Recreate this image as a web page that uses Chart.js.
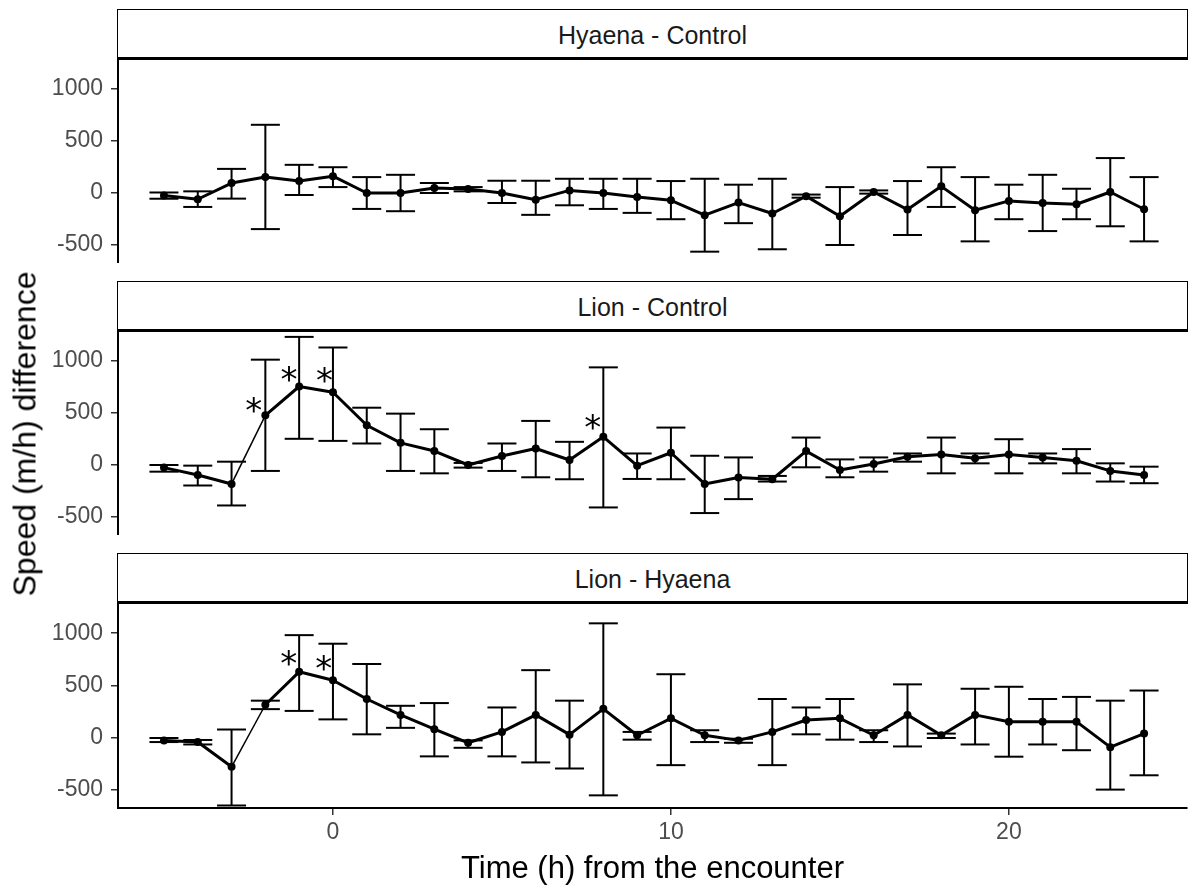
<!DOCTYPE html>
<html>
<head>
<meta charset="utf-8">
<title>Speed difference</title>
<script src="https://cdn.jsdelivr.net/npm/chart.js@4.4.0/dist/chart.umd.min.js"></script>
<style>
  body { margin: 0; background: #fff; font-family: "Liberation Sans", Arial, sans-serif; }
  #wrap { position: relative; width: 1189px; height: 890px; overflow: hidden; }
  .strip {
    position: absolute; left: 117px; width: 1071px; height: 51px;
    box-sizing: border-box; border: 1.5px solid #000; border-bottom: 3px solid #000;
    background: #fff; text-align: center; font-size: 25px; color: #1a1a1a;
    line-height: 44px; padding-top: 3px;
  }
  canvas { position: absolute; left: 0; }
  #ytitle {
    position: absolute; left: 25px; top: 434px;
    transform: translate(-50%, -50%) rotate(-90deg);
    font-size: 32px; white-space: nowrap; color: #000;
  }
</style>
</head>
<body>
<div id="wrap">
  <div class="strip" style="top:9px">Hyaena - Control</div>
  <div class="strip" style="top:281px">Lion - Control</div>
  <div class="strip" style="top:553px">Lion - Hyaena</div>
  <canvas id="p1" width="1189" height="203" style="top:60px"></canvas>
  <canvas id="p2" width="1189" height="203" style="top:332px"></canvas>
  <canvas id="p3" width="1189" height="286" style="top:604px"></canvas>
  <div id="ytitle">Speed (m/h) difference</div>
</div>
<script>
// Data (hours from the encounter)
const time = [-5, -4, -3, -2, -1, 0, 1, 2, 3, 4, 5, 6, 7, 8, 9, 10, 11, 12, 13, 14, 15, 16, 17, 18, 19, 20, 21, 22, 23, 24];

// Hyaena - Control
const hcMean = [-25, -60, 96, 153, 115, 162, 0, 0, 48, 38, 0, -64, 25, 0, -38, -70, -213, -92, -197, -30, -223, 10, -159, 64, -166, -76, -96, -108, 10, -156];
const hcHi   = [5, 16, 232, 656, 271, 248, 153, 175, 96, 57, 118, 118, 137, 137, 137, 115, 137, 80, 137, -15, 57, 25, 115, 248, 153, 80, 175, 41, 336, 153];
const hcLo   = [-55, -134, -54, -347, -19, 57, -153, -175, 0, 16, -96, -210, -118, -153, -191, -252, -564, -290, -541, -45, -500, -6, -404, -134, -465, -252, -366, -252, -320, -465];

// Lion - Control
const lcMean = [-25, -96, -182, 478, 755, 700, 382, 213, 134, 0, 86, 159, 48, 271, -6, 118, -182, -121, -137, 134, -48, 10, 80, 102, 64, 102, 73, 41, -57, -96];
const lcHi   = [0, -6, 32, 1013, 1232, 1130, 551, 494, 344, 20, 207, 424, 223, 939, 111, 360, 89, 73, -105, 264, 54, 73, 111, 264, 111, 248, 111, 153, 16, -16];
const lcLo   = [-64, -197, -389, -57, 252, 232, 207, -57, -80, -25, -57, -118, -137, -408, -134, -137, -462, -328, -159, -22, -118, -64, 32, -80, 16, -80, 16, -80, -159, -175];

// Lion - Hyaena
const lhMean = [-26, -42, -279, 315, 630, 549, 370, 218, 81, -49, 55, 218, 29, 276, 23, 185, 23, -26, 55, 169, 185, 23, 218, 23, 218, 153, 153, 153, -91, 39];
const lhHi   = [-3, -22, 78, 354, 981, 899, 705, 305, 331, -26, 289, 646, 354, 1094, 55, 607, 71, -10, 370, 289, 370, 71, 510, 39, 468, 487, 370, 390, 354, 451];
const lhLo   = [-42, -65, -649, 273, 256, 175, 32, 94, -179, -97, -179, -237, -295, -552, -19, -263, -42, -49, -263, 32, -19, -42, -84, -3, -65, -182, -65, -120, -497, -360];

// significance marks
const lcStarX = [-2.34, -1.3, -0.25, 7.69];
const lcStarY = [580, 874, 866, 410];
const lhStarX = [-1.31, -0.27];
const lhStarY = [765, 715];

// ticks
const yTicks = [-500, 0, 500, 1000];
const xTicks = [0, 10, 20];

const FONT = '"Liberation Sans", Arial, sans-serif';

// draws the asterisks at data coordinates
const starPlugin = {
  id: 'stars',
  afterDatasetsDraw(chart, args, opts) {
    if (!opts.xs) return;
    const ctx = chart.ctx;
    const x = chart.scales.x, y = chart.scales.y;
    ctx.save();
    ctx.font = '34px "DejaVu Sans"';
    ctx.fillStyle = '#000';
    ctx.textAlign = 'center';
    ctx.textBaseline = 'alphabetic';
    const m = ctx.measureText('*');
    const off = (m.actualBoundingBoxAscent - m.actualBoundingBoxDescent) / 2;
    opts.xs.forEach((v, i) => {
      ctx.fillText('*', x.getPixelForValue(v), y.getPixelForValue(opts.ys[i]) + off);
    });
    ctx.restore();
  }
};

function makeChart(id, mean, lo, hi, cfg) {
  const stems = [];
  const caps = [];
  time.forEach((t, i) => {
    stems.push({x: t, y: lo[i]}, {x: t, y: hi[i]}, {x: t, y: null});
    caps.push({x: t, y: lo[i]}, {x: t, y: hi[i]});
  });

  new Chart(document.getElementById(id), {
    type: 'line',
    data: {
      datasets: [
        {
          data: stems, borderColor: '#000', borderWidth: 2,
          pointRadius: 0, spanGaps: false
        },
        {
          data: caps, showLine: false, pointStyle: 'line',
          pointRadius: 14.5, pointBorderWidth: 2, pointBorderColor: '#000'
        },
        {
          data: time.map((t, i) => ({x: t, y: mean[i]})),
          borderColor: '#000', borderWidth: 3, borderJoinStyle: 'round',
          pointRadius: 4, pointBackgroundColor: '#000', pointBorderWidth: 0,
          segment: {
            borderWidth: c => (cfg.thinSeg && c.p0DataIndex === 2 ? 1.5 : 3)
          }
        }
      ]
    },
    options: {
      responsive: false,
      animation: false,
      events: [],
      layout: { autoPadding: false, padding: {left: 0, right: 2, top: 0, bottom: 0} },
      plugins: {
        legend: { display: false },
        tooltip: { enabled: false },
        stars: { xs: cfg.starX, ys: cfg.starY }
      },
      scales: {
        x: {
          type: 'linear',
          min: -6.36, max: 25.27,
          display: cfg.showX,
          afterBuildTicks: s => { s.ticks = xTicks.map(v => ({value: v})); },
          afterFit: s => {
            s.height = cfg.showX ? 82 : 0;
            s.paddingLeft = 0; s.paddingRight = 0;
          },
          grid: { drawOnChartArea: false, tickLength: 7, color: '#333', lineWidth: 1.5 },
          border: { display: true, color: '#000', width: 2 },
          ticks: {
            color: '#4d4d4d', font: {family: FONT, size: 23}, padding: 4,
            maxRotation: 0, callback: v => String(v)
          },
          title: {
            display: true, text: 'Time (h) from the encounter',
            color: '#000', font: {family: FONT, size: 31}, padding: {top: 0, bottom: 2}
          }
        },
        y: {
          min: -673, max: 1279,
          afterBuildTicks: s => { s.ticks = yTicks.map(v => ({value: v})); },
          afterFit: s => {
            s.width = 118;
            s.paddingTop = 0; s.paddingBottom = 0;
          },
          grid: { drawOnChartArea: false, tickLength: 7, color: '#333', lineWidth: 1.5 },
          border: { display: true, color: '#000', width: 2 },
          ticks: {
            color: '#4d4d4d', font: {family: FONT, size: 23}, padding: 8,
            callback: v => String(v)
          }
        }
      }
    },
    plugins: [starPlugin]
  });
}

makeChart('p1', hcMean, hcLo, hcHi, {showX: false, thinSeg: false});
makeChart('p2', lcMean, lcLo, lcHi, {showX: false, thinSeg: true, starX: lcStarX, starY: lcStarY});
makeChart('p3', lhMean, lhLo, lhHi, {showX: true, thinSeg: true, starX: lhStarX, starY: lhStarY});
</script>
</body>
</html>
